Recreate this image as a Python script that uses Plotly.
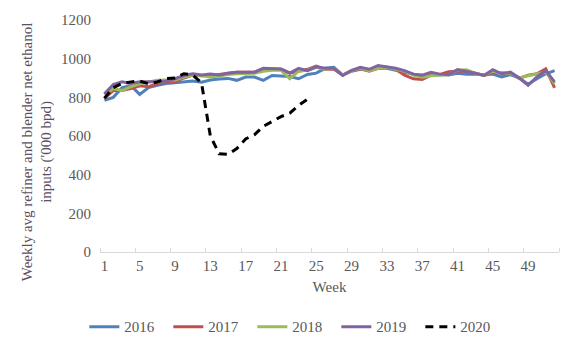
import plotly.graph_objects as go

weeks = list(range(1, 53))
tick_weeks = list(range(1, 53, 4))

y2016 = [785, 800, 850, 860, 815, 850, 862, 872, 876, 880, 885, 878, 890, 895, 898, 888, 905, 905, 888, 913, 912, 908, 896, 918, 925, 950,
         955, 915, 935, 945, 940, 950, 950, 938, 930, 920, 910, 915, 918, 915, 925, 920, 920, 915, 920, 905, 918, 900, 868, 896, 922, 938]
y2017 = [795, 835, 835, 845, 860, 855, 870, 880, 880, 900, 915, 912, 915, 918, 925, 930, 930, 930, 948, 948, 945, 925, 935, 945, 962, 945,
         945, 915, 938, 948, 935, 950, 955, 945, 915, 896, 892, 915, 918, 933, 935, 935, 925, 913, 928, 925, 925, 898, 915, 922, 947, 849]
y2018 = [815, 845, 835, 855, 870, 880, 888, 890, 890, 905, 915, 912, 905, 910, 918, 922, 925, 925, 935, 940, 940, 896, 935, 940, 955, 945,
         950, 915, 938, 950, 938, 950, 955, 945, 935, 915, 904, 912, 915, 918, 940, 943, 925, 915, 935, 925, 925, 900, 912, 922, 930, 871]
y2019 = [818, 866, 880, 872, 880, 880, 880, 885, 896, 913, 922, 915, 920, 915, 925, 930, 930, 930, 950, 950, 947, 926, 950, 938, 958, 950,
         950, 913, 940, 955, 945, 965, 958, 950, 938, 920, 915, 930, 920, 918, 943, 935, 925, 913, 943, 922, 930, 900, 862, 905, 938, 880]
y2020 = [795, 850, 872, 880, 884, 870, 880, 897, 900, 922, 916, 875, 600, 508, 505, 535, 585, 607, 650, 673, 700, 718, 758, 790]

series = [
    ("2016", y2016, "#4F81BD", "solid"),
    ("2017", y2017, "#C0504D", "solid"),
    ("2018", y2018, "#9BBB59", "solid"),
    ("2019", y2019, "#8064A2", "solid"),
]

FONT = "Liberation Serif, Times New Roman, serif"
GREY = "#595959"

fig = go.Figure()
for name, ys, color, dash in series:
    fig.add_trace(go.Scatter(x=weeks[:len(ys)], y=ys, name=name, mode="lines",
                             line=dict(color=color, width=3, dash=dash)))
fig.add_trace(go.Scatter(x=weeks[:len(y2020)], y=y2020, name="2020", mode="lines",
                         line=dict(color="#000000", width=3, dash="8px,6px")))

fig.update_layout(
    width=576, height=353,
    margin=dict(l=100, r=17, t=15, b=101),
    paper_bgcolor="white", plot_bgcolor="white",
    font=dict(family=FONT, size=15, color=GREY),
    showlegend=True,
    legend=dict(orientation="h", xref="container", yref="container",
                x=0.511, xanchor="center", y=0.074, yanchor="middle",
                entrywidth=39, entrywidthmode="pixels",
                font=dict(size=15, color=GREY), traceorder="normal"),
    xaxis=dict(range=[0.5, 52.5], tickmode="array", tickvals=tick_weeks,
               ticktext=[str(w) for w in tick_weeks], ticks="",
               showline=True, linecolor="#D9D9D9", linewidth=1,
               showgrid=False, zeroline=False,
               minor=dict(tick0=0.5, dtick=4, ticks="inside", ticklen=4,
                          tickcolor="#D9D9D9", tickwidth=1, showgrid=False),
               title=dict(text="Week", font=dict(size=15, color=GREY), standoff=8)),
    yaxis=dict(range=[0, 1200], tickmode="array", tickvals=[0, 200, 400, 600, 800, 1000, 1200],
               showline=False, showgrid=False, zeroline=False, ticks="",
               ticklabelstandoff=8),
)

fig.add_annotation(
    text="Weekly avg refiner and blender net ethanol<br>inputs ('000 bpd)",
    xref="paper", yref="paper", x=0, y=0.43, xshift=-63,
    xanchor="center", yanchor="middle", textangle=-90, showarrow=False,
    font=dict(size=15, color="#5b4f63", family=FONT),
)

fig.write_html("out.html")
